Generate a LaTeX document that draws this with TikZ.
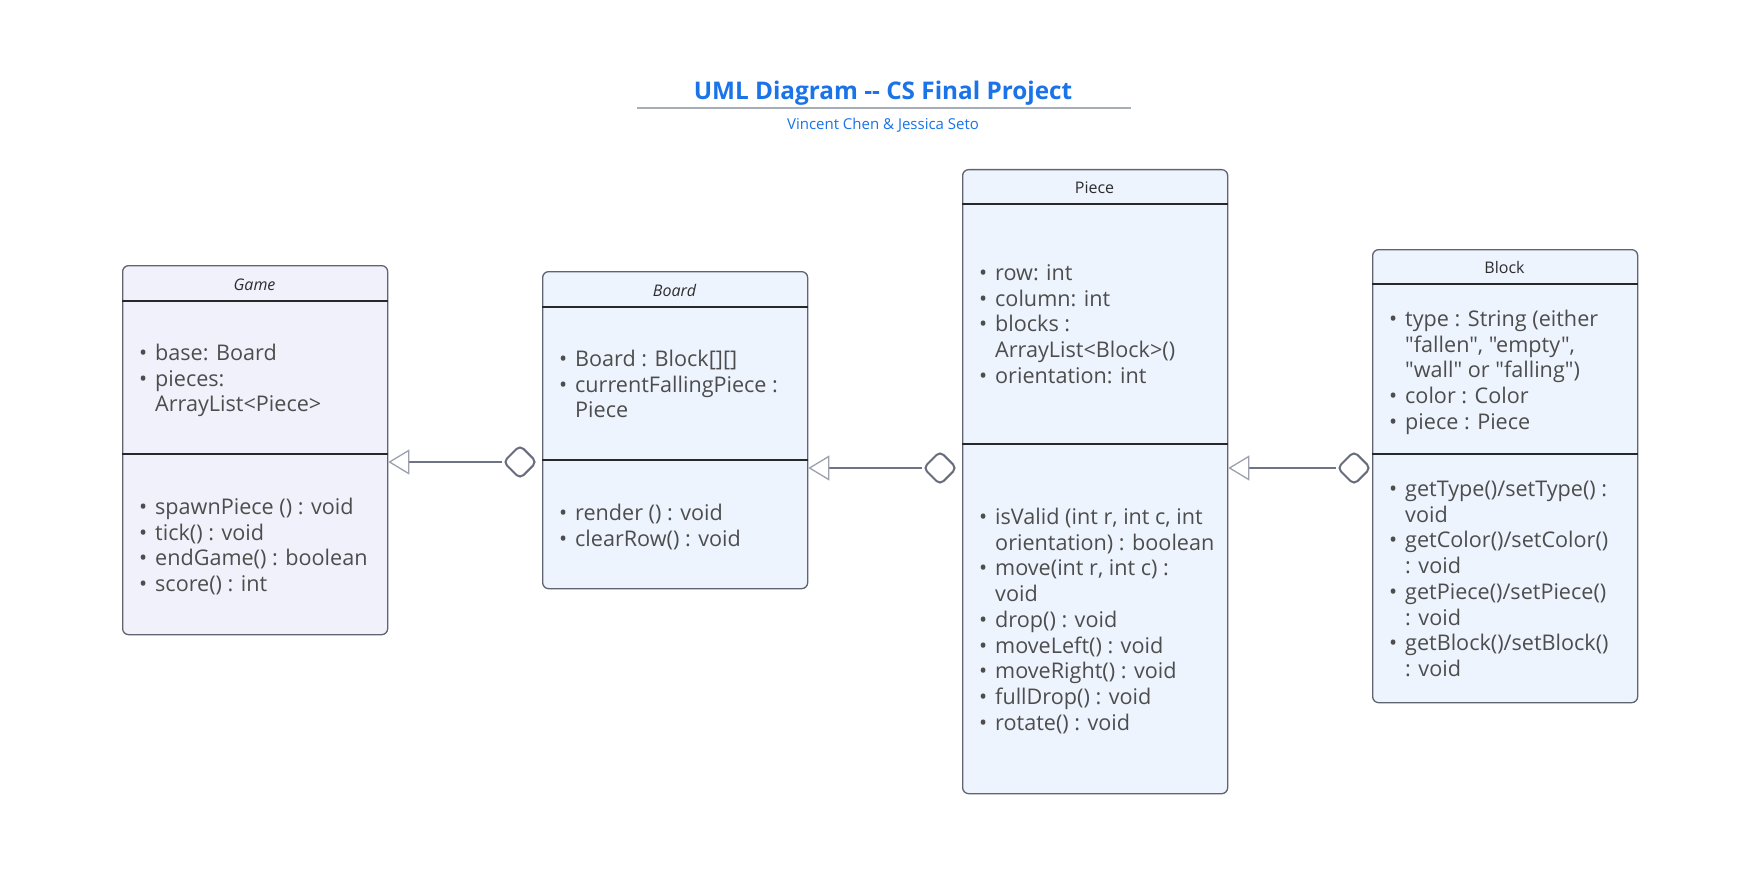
\documentclass[tikz,border=0pt]{standalone}
\usepackage{fontspec}
\setmainfont{Open Sans}[Ligatures=TeXOff]
\usetikzlibrary{arrows.meta,shapes.geometric}
\definecolor{gamefill}{RGB}{241,241,252}
\definecolor{boxfill}{RGB}{237,244,254}
\definecolor{borderc}{RGB}{96,99,112}
\definecolor{divc}{RGB}{40,40,40}
\definecolor{textc}{RGB}{77,77,77}
\definecolor{hdrc}{RGB}{45,45,45}
\definecolor{titleblue}{RGB}{26,115,232}
\definecolor{ulc}{RGB}{169,173,184}
\definecolor{linec}{RGB}{110,116,133}
\definecolor{tric}{RGB}{156,161,173}
\definecolor{diamc}{RGB}{103,109,125}
\newcommand\bl{\makebox[16pt][l]{\textbullet}}
\newcommand\ind{\hspace*{16pt}}
\begin{document}
\begin{tikzpicture}[x=1pt,y=-1pt,
  umlbox/.style={draw=borderc, line width=1.3pt, rounded corners=6pt, minimum width=265pt, anchor=north west, inner sep=0pt},
  divline/.style={draw=divc, line width=1.3pt},
  hdr/.style={text=hdrc, font=\fontsize{16}{16}\selectfont, inner sep=0pt},
  lst/.style={text=textc, font=\fontsize{21.6}{25.7}\selectfont, anchor=base west, inner sep=0pt},
  aggd/.style={diamond, draw=diamc, line width=2pt, fill=white, minimum width=34pt, minimum height=34pt, inner sep=0pt, rounded corners=5pt},
  assoc/.style={draw=linec, line width=1.3pt, -{Triangle[open, length=21pt, width=25pt, color=tric, line width=1.3pt]}}
]
\useasboundingbox[fill=white] (0,0) rectangle (1760,896);

% title
\node[text=titleblue, font=\bfseries\fontsize{24.3}{24.3}\selectfont, inner sep=0pt, anchor=base] (title) at (883,100) {UML Diagram -- CS Final Project};
\coordinate (ulL) at (637,108);
\coordinate (ulR) at (1131,108);
\draw[draw=ulc, line width=1.8pt] (ulL) -- (ulR);
\node[text=titleblue, font=\fontsize{15}{15}\selectfont, inner sep=0pt, anchor=base] (sub) at (883,129.4) {Vincent Chen \& Jessica Seto};

% Game
\node[umlbox, fill=gamefill, minimum height=369pt] (game) at (122,265) {};
\draw[divline] (game.west |- 0,301) -- (game.east |- 0,301);
\draw[divline] (game.west |- 0,454) -- (game.east |- 0,454);
\node[hdr, font=\itshape\fontsize{16}{16}\selectfont] (gameT) at (254.5,285) {Game};
\node[lst] (gameA) at (139,360.5) {\begin{tabular}[t]{@{}l@{}}
\bl base: Board\\
\bl pieces:\\
\ind ArrayList<Piece>
\end{tabular}};
\node[lst] (gameM) at (139,514.5) {\begin{tabular}[t]{@{}l@{}}
\bl spawnPiece () : void\\
\bl tick() : void\\
\bl endGame() : boolean\\
\bl score() : int
\end{tabular}};

% Board
\node[umlbox, fill=boxfill, minimum height=317pt] (board) at (542,271) {};
\draw[divline] (board.west |- 0,307) -- (board.east |- 0,307);
\draw[divline] (board.west |- 0,460) -- (board.east |- 0,460);
\node[hdr, font=\itshape\fontsize{16}{16}\selectfont] (boardT) at (674.5,290) {Board};
\node[lst] (boardA) at (559,366.5) {\begin{tabular}[t]{@{}l@{}}
\bl Board : Block{}[]{}[]\\
\bl currentFallingPiece :\\
\ind Piece
\end{tabular}};
\node[lst] (boardM) at (559,520.5) {\begin{tabular}[t]{@{}l@{}}
\bl render () : void\\
\bl clearRow() : void
\end{tabular}};

% Piece
\node[umlbox, fill=boxfill, minimum height=624pt] (piece) at (962,169) {};
\draw[divline] (piece.west |- 0,204) -- (piece.east |- 0,204);
\draw[divline] (piece.west |- 0,444) -- (piece.east |- 0,444);
\node[hdr] (pieceT) at (1094.5,188) {Piece};
\node[lst] (pieceA) at (979,280.5) {\begin{tabular}[t]{@{}l@{}}
\bl row: int\\
\bl column: int\\
\bl blocks :\\
\ind ArrayList<Block>()\\
\bl orientation: int
\end{tabular}};
\node[lst] (pieceM) at (979,524.5) {\begin{tabular}[t]{@{}l@{}}
\bl isValid (int r, int c, int\\
\ind orientation) : boolean\\
\bl move(int r, int c) :\\
\ind void\\
\bl drop() : void\\
\bl moveLeft() : void\\
\bl moveRight() : void\\
\bl fullDrop() : void\\
\bl rotate() : void
\end{tabular}};

% Block
\node[umlbox, fill=boxfill, minimum height=453pt] (block) at (1372,249) {};
\draw[divline] (block.west |- 0,284) -- (block.east |- 0,284);
\draw[divline] (block.west |- 0,454) -- (block.east |- 0,454);
\node[hdr] (blockT) at (1504.5,267) {Block};
\node[lst] (blockA) at (1389,326.5) {\begin{tabular}[t]{@{}l@{}}
\bl type : String (either\\
\ind "fallen", "empty",\\
\ind "wall" or "falling")\\
\bl color : Color\\
\bl piece : Piece
\end{tabular}};
\node[lst] (blockM) at (1389,496.5) {\begin{tabular}[t]{@{}l@{}}
\bl getType()/setType() :\\
\ind void\\
\bl getColor()/setColor()\\
\ind : void\\
\bl getPiece()/setPiece()\\
\ind : void\\
\bl getBlock()/setBlock()\\
\ind : void
\end{tabular}};

% connectors
\node[aggd] (dGB) at (520,462) {};
\node[aggd] (dBP) at (940,468) {};
\node[aggd] (dPB) at (1354,468) {};
\draw[assoc] (dGB.west) -- (game.east |- dGB.west);
\draw[assoc] (dBP.west) -- (board.east |- dBP.west);
\draw[assoc] (dPB.west) -- (piece.east |- dPB.west);
\end{tikzpicture}
\end{document}
